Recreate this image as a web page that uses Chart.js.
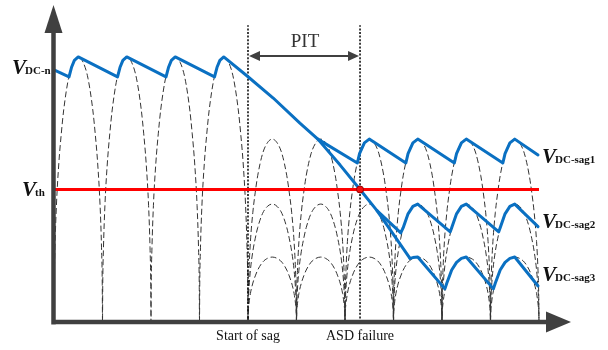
<!DOCTYPE html>
<html>
<head>
<meta charset="utf-8">
<style>
  html, body { margin: 0; padding: 0; background: #fff; }
  #wrap { position: relative; width: 608px; height: 350px; }
</style>
<script src="https://cdn.jsdelivr.net/npm/chart.js"></script>
</head>
<body>
<div id="wrap"><canvas id="chart"></canvas></div>
<script>
// time axis in half-cycles of the supply, voltage axis in p.u. of the DC-bus peak
const zeroCrossings = [0, 1, 2, 3, 4, 5, 6, 7, 8, 9, 10];
const sagStart = 4;
const asdFailure = 6.31;
const nominalLevel = 1.0;
const sagLevels = [0.69, 0.445, 0.245];   // sag1, sag2, sag3 rectified peaks
const vth = 0.5;

// shape of one rectified half-wave, as drawn in the reference (fraction of width, fraction of peak)
const arcU = [0, 0.005, 0.02, 0.05, 0.1, 0.15, 0.2, 0.3, 0.4, 0.5, 0.6, 0.7, 0.8, 0.85, 0.9, 0.95, 0.98, 0.995, 1];
const arcH = [0, 0.14, 0.28, 0.44, 0.6, 0.71, 0.8, 0.92, 0.98, 1, 0.98, 0.92, 0.8, 0.71, 0.6, 0.44, 0.28, 0.14, 0];

// DC-bus voltage before the sag and the free discharge after it
const vdcT = [0, 0.31, 0.36, 0.42, 0.5, 1.31, 1.36, 1.42, 1.5, 2.31, 2.36, 2.42, 2.5, 3.31, 3.36, 3.42, 3.5,
              3.97, 4.52, 5.07, 5.44, 5.9, 6.31, 6.66, 7.34];
const vdcV = [0.951, 0.925, 0.96, 0.987, 1.0, 0.925, 0.96, 0.987, 1.0, 0.925, 0.96, 0.987, 1.0, 0.925, 0.96, 0.987, 1.0,
              0.93, 0.845, 0.75, 0.69, 0.592, 0.5, 0.42, 0.24];
// ripple once the bus settles on each sag level
const sag1T = [5.44, 6.255, 6.3, 6.4, 6.5, 7.255, 7.3, 7.4, 7.5, 8.255, 8.3, 8.4, 8.5, 9.255, 9.3, 9.4, 9.5, 9.98];
const sag1V = [0.69, 0.6, 0.635, 0.676, 0.69, 0.6, 0.635, 0.676, 0.69, 0.6, 0.635, 0.676, 0.69, 0.6, 0.635, 0.676, 0.69, 0.63];
const sag2T = [6.66, 7.15, 7.2, 7.3, 7.4, 7.5, 8.17, 8.2, 8.3, 8.4, 8.5, 9.17, 9.2, 9.3, 9.4, 9.5, 9.98];
const sag2V = [0.42, 0.336, 0.356, 0.408, 0.436, 0.445, 0.34, 0.356, 0.408, 0.436, 0.445, 0.34, 0.356, 0.408, 0.436, 0.445, 0.36];
const sag3T = [7.34, 7.4, 7.5, 8.06, 8.1, 8.2, 8.3, 8.4, 8.5, 9.06, 9.1, 9.2, 9.3, 9.4, 9.5, 9.98];
const sag3V = [0.24, 0.243, 0.245, 0.125, 0.147, 0.196, 0.225, 0.24, 0.245, 0.125, 0.147, 0.196, 0.225, 0.24, 0.245, 0.136];

const xMax = 10.66;
const yMax = 1.196;

function pts(t, v) {
    return t.map((x, i) => ({ x: x, y: v[i] }));
}
function arcs(from, to, level) {
    const out = [];
    for (let k = from; k < to; k++) {
        const a = zeroCrossings[k], b = zeroCrossings[k + 1];
        arcU.forEach((u, i) => {
            if (k > from && i === 0) return;
            out.push({ x: a + u * (b - a), y: level * arcH[i] });
        });
    }
    return out;
}

const blue = '#0a70c2';
const dashed = { borderColor: '#333', borderWidth: 1, borderDash: [6, 3], pointRadius: 0, showLine: true, cubicInterpolationMode: 'monotone' };
const bus = { borderColor: blue, borderWidth: 3, pointRadius: 0, showLine: true, borderJoinStyle: 'round', borderCapStyle: 'round' };
const marker = { borderColor: '#111', borderWidth: 1.6, borderDash: [2, 1.6], pointRadius: 0, showLine: true };

function vLabel(ctx, x, y, sub) {
    ctx.font = 'bold italic 21px "Liberation Serif"';
    ctx.fillText('V', x, y);
    const w = ctx.measureText('V').width;
    ctx.font = 'bold 11px "Liberation Serif"';
    ctx.fillText(sub, x + w - 1, y);
}

const overlay = {
    id: 'overlay',
    afterDatasetsDraw(chart) {
        const ctx = chart.ctx;
        const xs = chart.scales.x, ys = chart.scales.y;
        const x0 = xs.getPixelForValue(0), y0 = ys.getPixelForValue(0);
        const top = chart.chartArea.top, right = chart.chartArea.right;
        ctx.save();
        // axes with arrows
        ctx.strokeStyle = '#404040';
        ctx.fillStyle = '#404040';
        ctx.lineWidth = 4.5;
        ctx.beginPath();
        ctx.moveTo(x0 - 0.5, y0 + 2.5);
        ctx.lineTo(x0 - 0.5, top + 26);
        ctx.moveTo(x0 - 2.5, y0);
        ctx.lineTo(right - 22, y0);
        ctx.stroke();
        ctx.beginPath();
        ctx.moveTo(x0 - 0.5, top);
        ctx.lineTo(x0 - 9.5, top + 28);
        ctx.lineTo(x0 + 8.5, top + 28);
        ctx.closePath();
        ctx.fill();
        ctx.beginPath();
        ctx.moveTo(right, y0);
        ctx.lineTo(right - 25, y0 - 10.5);
        ctx.lineTo(right - 25, y0 + 10.5);
        ctx.closePath();
        ctx.fill();

        // PIT arrow
        const xa = xs.getPixelForValue(sagStart) + 1, xb = xs.getPixelForValue(asdFailure) - 1;
        const ya = ys.getPixelForValue(1.0) - 1;
        ctx.lineWidth = 2;
        ctx.beginPath();
        ctx.moveTo(xa + 6, ya);
        ctx.lineTo(xb - 6, ya);
        ctx.stroke();
        ctx.beginPath();
        ctx.moveTo(xa, ya); ctx.lineTo(xa + 11, ya - 5); ctx.lineTo(xa + 11, ya + 5); ctx.closePath();
        ctx.moveTo(xb, ya); ctx.lineTo(xb - 11, ya - 5); ctx.lineTo(xb - 11, ya + 5); ctx.closePath();
        ctx.fill();
        ctx.fillStyle = '#333';
        ctx.font = '19px "Liberation Serif"';
        ctx.textAlign = 'center';
        ctx.textBaseline = 'alphabetic';
        ctx.fillText('PIT', (xa + xb) / 2 + 1, ya - 9);

        // event labels under the time axis
        ctx.fillStyle = '#111';
        ctx.font = '14px "Liberation Serif"';
        ctx.fillText('Start of sag', xs.getPixelForValue(sagStart), y0 + 18);
        ctx.fillText('ASD failure', xs.getPixelForValue(asdFailure), y0 + 18);

        // voltage labels
        ctx.textAlign = 'left';
        vLabel(ctx, 12, ys.getPixelForValue(vdcV[0]) + 4, 'DC-n');
        vLabel(ctx, 22, ys.getPixelForValue(vth) + 7, 'th');
        vLabel(ctx, 542, 163, 'DC-sag1');
        vLabel(ctx, 542, 228, 'DC-sag2');
        vLabel(ctx, 542, 281, 'DC-sag3');
        ctx.restore();
    }
};

new Chart(document.getElementById('chart'), {
    type: 'scatter',
    data: {
        datasets: [
            { data: [{ x: asdFailure, y: vth }], pointRadius: 3.5, pointBackgroundColor: '#f01010', pointBorderColor: '#900', pointBorderWidth: 1, showLine: false },
            Object.assign({ data: pts(vdcT, vdcV) }, bus),
            Object.assign({ data: pts(sag1T, sag1V) }, bus),
            Object.assign({ data: pts(sag2T, sag2V) }, bus),
            Object.assign({ data: pts(sag3T, sag3V) }, bus),
            { data: [{ x: 0, y: vth }, { x: zeroCrossings[10], y: vth }], borderColor: '#ff0000', borderWidth: 3, pointRadius: 0, showLine: true },
            Object.assign({ data: [{ x: sagStart, y: 0 }, { x: sagStart, y: 1.12 }] }, marker),
            Object.assign({ data: [{ x: asdFailure, y: 0 }, { x: asdFailure, y: 1.12 }] }, marker),
            Object.assign({ data: arcs(0, sagStart, nominalLevel) }, dashed),
            Object.assign({ data: arcs(sagStart, 10, sagLevels[0]) }, dashed),
            Object.assign({ data: arcs(sagStart, 10, sagLevels[1]) }, dashed),
            Object.assign({ data: arcs(sagStart, 10, sagLevels[2]) }, dashed)
        ]
    },
    plugins: [overlay],
    options: {
        responsive: true,
        maintainAspectRatio: false,
        devicePixelRatio: 1,
        animation: false,
        clip: false,
        layout: { padding: { left: 54, right: 37, top: 5, bottom: 28 } },
        plugins: { legend: { display: false }, tooltip: { enabled: false } },
        scales: {
            x: { type: 'linear', min: 0, max: xMax, display: false },
            y: { type: 'linear', min: 0, max: yMax, display: false }
        }
    }
});
</script>
</body>
</html>
